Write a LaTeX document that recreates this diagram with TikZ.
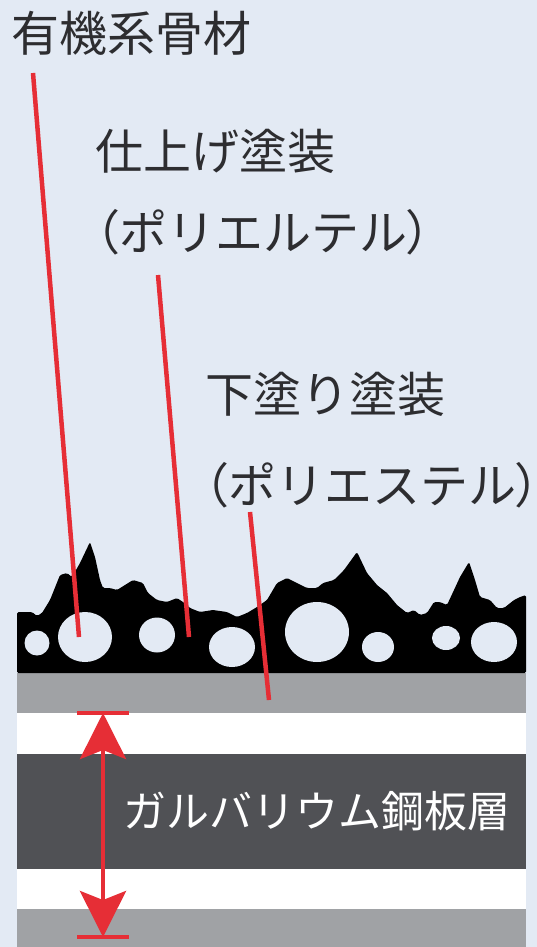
\documentclass[tikz,border=0pt]{standalone}
\usepackage{fontspec}
\newfontfamily\jp{Noto Sans CJK JP}
\newfontfamily\jpprop[RawFeature=+palt]{Noto Sans CJK JP}
\usetikzlibrary{arrows.meta}
\definecolor{bgblue}{RGB}{227,234,244}
\definecolor{coatgray}{RGB}{160,162,165}
\definecolor{steeldark}{RGB}{80,81,85}
\definecolor{leadred}{RGB}{230,46,54}
\definecolor{txtgray}{RGB}{45,45,48}
% half-width brackets, the closing one trimmed to its ink
\newcommand{\lbr}{{\jpprop （}}
\newcommand{\rbr}{\makebox[0.36em][l]{\jpprop ）}}
\begin{document}
\begin{tikzpicture}[x=1pt,y=-1pt,
  tag/.style={anchor=base west, inner sep=0pt, text=txtgray, font=\jp\fontsize{48}{50}\selectfont},
  steeltag/.style={anchor=base west, inner sep=0pt, text=white, font=\jp\fontsize{43}{46}\selectfont},
  leader/.style={draw=leadred, line width=4.5pt},
  hole/.style={fill=bgblue},
]
\useasboundingbox (0,0) rectangle (537,947);
\fill[bgblue] (0,0) rectangle (537,947);

% layer stack
\fill[coatgray]  (17,673) rectangle (526,713);
\fill[white]     (17,713) rectangle (526,754);
\fill[steeldark] (17,754) rectangle (526,869);
\fill[white]     (17,869) rectangle (526,909);
\fill[coatgray]  (17,909) rectangle (526,947);

% rough top coat with organic aggregate
\fill[black, rounded corners=1.5pt]
  (17,612) -- (32,612) -- (37,616) -- (42,613) -- (50,600) -- (60,575) -- (67,573)
  -- (72,577) -- (80,563) -- (90,542) -- (95,557) -- (100,580) -- (103,588)
  -- (110,588) -- (117,590) -- (125,585) -- (133,580) -- (143,583) -- (148,593)
  -- (157,600) -- (167,602) -- (177,598) -- (183,602) -- (190,608) -- (200,612)
  -- (213,610) -- (227,612) -- (237,617) -- (247,613) -- (257,607) -- (267,600)
  -- (277,583) -- (287,578) -- (297,583) -- (307,588) -- (317,588) -- (323,583)
  -- (334,580) -- (344,570) -- (357,552) -- (367,573) -- (377,585) -- (387,593)
  -- (397,605) -- (407,613) -- (414,610) -- (420,615) -- (427,613) -- (434,602)
  -- (440,602) -- (447,605) -- (454,590) -- (460,577) -- (469,562) -- (475,580)
  -- (480,597) -- (490,600) -- (497,608) -- (504,608) -- (514,600) -- (520,597)
  -- (526,595) -- (526,673) -- (17,673) -- cycle;
\fill[hole] (37,643) ellipse [x radius=12.5, y radius=12.5];
\fill[hole] (85,637) ellipse [x radius=27, y radius=25];
\fill[hole] (157,635) ellipse [x radius=18, y radius=17.5];
\fill[hole] (232,647) ellipse [x radius=23, y radius=20];
\fill[hole] (317,632) ellipse [x radius=32, y radius=30];
\fill[hole] (378,647) ellipse [x radius=16, y radius=15];
\fill[hole] (446,638) ellipse [x radius=14, y radius=12];
\fill[hole] (494,642) ellipse [x radius=23, y radius=20];

% labels
\node[tag] (aggr) at (11,52) {有機系骨材};
\node[tag] (topcoat) at (95,169) {仕上げ塗装};
\node[tag] (topcoatsub) at (95,250) {\lbr ポリエルテル\rbr};
\node[tag] (primer) at (205,412) {下塗り塗装};
\node[tag] (primersub) at (204,503) {\lbr ポリエステル\rbr};
\node[steeltag] (steel) at (123,827) {ガルバリウム鋼板層};

% leader lines
\coordinate (aggrA) at (33,73);
\coordinate (aggrB) at (79,637);
\coordinate (topA) at (158,275);
\coordinate (topB) at (189,637);
\coordinate (priA) at (250,512);
\coordinate (priB) at (269,700);
\draw[leader] (aggrA) -- (aggrB);
\draw[leader] (topA) -- (topB);
\draw[leader] (priA) -- (priB);

% steel thickness dimension
\coordinate (dimtop) at (103,713);
\coordinate (dimbot) at (103,937);
\draw[leader, {Stealth[length=46pt,width=46pt,inset=9pt]}-{Stealth[length=46pt,width=46pt,inset=9pt]}] (dimtop) -- (dimbot);
\draw[leader, line width=4pt] ([xshift=-26pt]dimtop) -- ([xshift=26pt]dimtop);
\draw[leader, line width=4pt] ([xshift=-26pt]dimbot) -- ([xshift=26pt]dimbot);
\end{tikzpicture}
\end{document}
